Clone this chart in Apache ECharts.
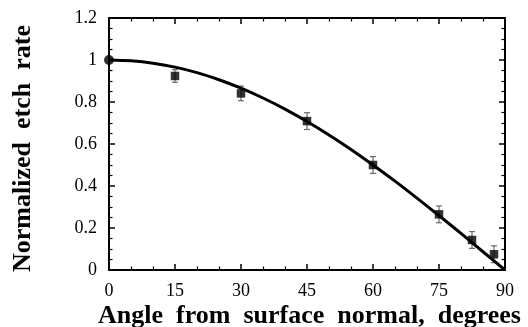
<!DOCTYPE html>
<html>
<head>
<meta charset="utf-8">
<script src="https://cdn.jsdelivr.net/npm/echarts@6/dist/echarts.min.js"></script>
<style>
  html, body { margin: 0; padding: 0; background: #fff; }
  #chart { width: 528px; height: 327px; }
</style>
</head>
<body>
<div id="chart"></div>
<script>
// Measured etch rates (normalized) vs. ion incidence angle
const angles = [0, 15, 30, 45, 60, 75, 82.5, 87.5];
const rates = [1.0, 0.924, 0.841, 0.709, 0.5, 0.265, 0.143, 0.075];
const errors = [0, 0.03, 0.035, 0.04, 0.04, 0.04, 0.04, 0.04];

// Fitted curve through the measurements
const fitAngles = [0, 5, 10, 15, 20, 25, 30, 35, 40, 45, 50, 55, 60, 65, 70, 75, 80, 85, 90];
const fitRates = [1.0, 0.996, 0.985, 0.966, 0.94, 0.906, 0.866, 0.819, 0.766, 0.707,
                  0.643, 0.574, 0.5, 0.423, 0.342, 0.259, 0.174, 0.087, 0.0];

// Axis ranges and tick steps
const xRange = [0, 90];
const xStep = 15;
const yRange = [0, 1.2];
const yStep = 0.2;

const xTitle = 'Angle  from  surface  normal,  degrees';
const yTitle = 'Normalized  etch  rate';

const serif = '"Liberation Serif", "Times New Roman", serif';
const chart = echarts.init(document.getElementById('chart'), null, { renderer: 'canvas' });

function frameAxis(extra) {
  return Object.assign({
    axisLine: { show: true, onZero: false, lineStyle: { color: '#000', width: 2 } },
    axisTick: { show: true, inside: true, length: 6, lineStyle: { color: '#000', width: 1.5 } },
    minorTick: { show: true, length: 3.5, lineStyle: { color: '#000', width: 1.2 } },
    splitLine: { show: false },
    minorSplitLine: { show: false }
  }, extra);
}

const errorData = angles
  .map((a, i) => [a, rates[i] - errors[i], rates[i] + errors[i]])
  .filter((d, i) => errors[i] > 0);

const pointData = angles.map((a, i) => ({
  value: [a, rates[i]],
  symbol: i === 0 ? 'circle' : 'rect',
  symbolSize: i === 0 ? 10 : 8.5
}));

const option = {
  animation: false,
  backgroundColor: '#fff',
  grid: { left: 109, right: 23, top: 18, bottom: 57, containLabel: false },
  xAxis: [
    frameAxis({
      type: 'value', position: 'bottom', min: xRange[0], max: xRange[1], interval: xStep,
      minorTick: { show: true, splitNumber: 3, length: 3.5, lineStyle: { color: '#000', width: 1.2 } },
      axisLabel: { show: true, color: '#000', fontFamily: serif, fontSize: 18, margin: 12 }
    }),
    frameAxis({
      type: 'value', position: 'top', min: xRange[0], max: xRange[1], interval: xStep,
      minorTick: { show: true, splitNumber: 3, length: 3.5, lineStyle: { color: '#000', width: 1.2 } },
      axisLabel: { show: false }
    })
  ],
  yAxis: [
    frameAxis({
      type: 'value', position: 'left', min: yRange[0], max: yRange[1], interval: yStep,
      minorTick: { show: true, splitNumber: 4, length: 3.5, lineStyle: { color: '#000', width: 1.2 } },
      axisLabel: {
        show: true, color: '#000', fontFamily: serif, fontSize: 18, margin: 12,
        formatter: v => String(Math.round(v * 10) / 10)
      }
    }),
    frameAxis({
      type: 'value', position: 'right', min: yRange[0], max: yRange[1], interval: yStep,
      minorTick: { show: true, splitNumber: 4, length: 3.5, lineStyle: { color: '#000', width: 1.2 } },
      axisLabel: { show: false }
    })
  ],
  graphic: [
    {
      type: 'text', x: 309.5, y: 316,
      style: {
        text: xTitle, font: 'bold 26px ' + serif, fill: '#000',
        align: 'center', verticalAlign: 'middle'
      }
    },
    {
      type: 'text', x: 23, y: 148.5, rotation: Math.PI / 2,
      style: {
        text: yTitle, font: 'bold 26px ' + serif, fill: '#000',
        align: 'center', verticalAlign: 'middle'
      }
    }
  ],
  series: [
    {
      type: 'custom',
      xAxisIndex: 0, yAxisIndex: 0,
      data: errorData,
      z: 2,
      renderItem: function (params, api) {
        const x = api.value(0);
        const top = api.coord([x, api.value(2)]);
        const bot = api.coord([x, api.value(1)]);
        const cap = 3;
        const st = { stroke: '#6a6a6a', lineWidth: 1.2 };
        return {
          type: 'group',
          children: [
            { type: 'line', shape: { x1: top[0], y1: top[1], x2: bot[0], y2: bot[1] }, style: st },
            { type: 'line', shape: { x1: top[0] - cap, y1: top[1], x2: top[0] + cap, y2: top[1] }, style: st },
            { type: 'line', shape: { x1: bot[0] - cap, y1: bot[1], x2: bot[0] + cap, y2: bot[1] }, style: st }
          ]
        };
      }
    },
    {
      type: 'line',
      xAxisIndex: 0, yAxisIndex: 0,
      data: fitAngles.map((a, i) => [a, fitRates[i]]),
      smooth: 0.3,
      showSymbol: false,
      symbol: 'none',
      lineStyle: { color: '#000', width: 3 },
      z: 3
    },
    {
      type: 'scatter',
      xAxisIndex: 0, yAxisIndex: 0,
      data: pointData,
      itemStyle: { color: '#000' },
      z: 4
    }
  ]
};

chart.setOption(option);
</script>
</body>
</html>
